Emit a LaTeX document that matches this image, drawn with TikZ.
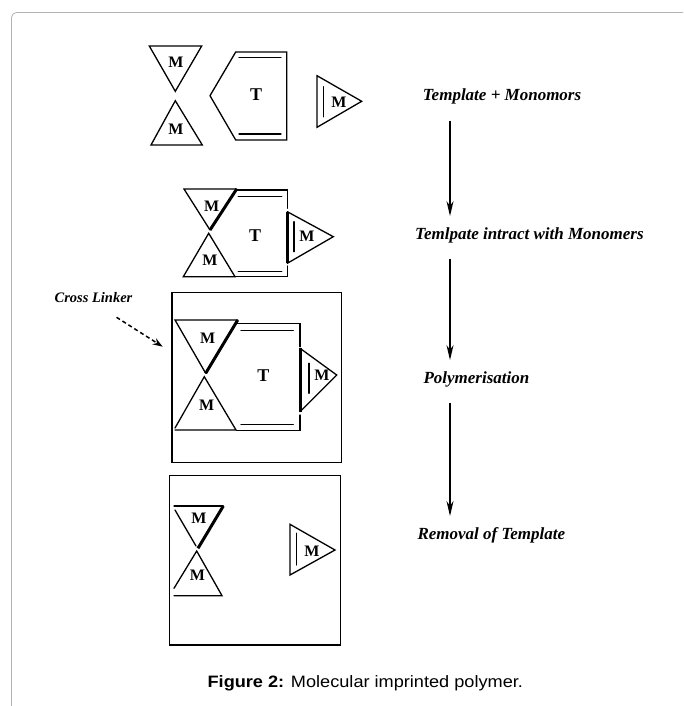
\documentclass[tikz,border=0pt]{standalone}
\usepackage{fontspec}
\setmainfont{Liberation Serif}
\newfontfamily\capfont{Liberation Sans}
\usepackage{tikz}
\usetikzlibrary{positioning, arrows.meta}

\begin{document}
\begin{tikzpicture}[
    x=1pt, y=-1pt,
    % --- MINIMALIST STYLES ---
    edge/.style={line width=1.3pt, line cap=round},
    bond/.style={line width=3pt}, % Interaction side (thick)
    mono/.style={font=\fontsize{16}{16}\selectfont\bfseries, inner sep=0pt}, % Monomer M
    tmpl/.style={font=\fontsize{18}{18}\selectfont\bfseries, inner sep=0pt}, % Template T
    stage/.style={font=\fontsize{17}{17}\selectfont\bfseries\itshape, inner sep=0pt, anchor=west},
    flow/.style={line width=1.5pt, -{Stealth[length=15pt, width=7pt]}, shorten <=16pt, shorten >=11pt},
    panel/.style={line width=1.2pt}
]
\useasboundingbox (0,0) rectangle (683,706);

% --- PAGE FRAME ---
\draw[gray!60, line width=0.8pt, rounded corners=5pt] (11.5,706) -- (11.5,12.5) -- (683,12.5);

% --- 1. TEMPLATE + MONOMERS ---
\draw[edge] (149.3,46) -- (201.7,46) -- (175.3,91.3) -- cycle;
\draw[edge] (175.3,100.7) -- (202.3,145) -- (151,145) -- cycle;
\draw[edge] (210,95.7) -- (235.7,52) -- (286.7,52) -- (286.7,140) -- (235.7,140) -- cycle;
\draw[edge] (239,57.7) -- (281,57.7);
\draw[edge] (239,134) -- (281,134);
\draw[edge] (317,75.7) -- (361.7,101.3) -- (317,127.3) -- cycle;
\draw[edge] (323.7,86.7) -- (323.7,116.7);
\node (m1a) [mono] at (176,62.7) {M};
\node (m1b) [mono] at (176,129) {M};
\node (t1) [tmpl] at (256,94.3) {T};
\node (m1c) [mono] at (339,102) {M};

% --- 2. TEMPLATE BOUND TO MONOMERS ---
\draw[edge] (210,230) -- (184,189) -- (236.7,189);
\draw[bond] (236.7,189) -- (210,230);
\draw[edge] (208.7,233.3) -- (235,276.7) -- (183.3,276.7) -- cycle;
\draw[edge] (236.7,190) -- (287.3,190) -- (287.3,208.3);
\draw[edge] (287.3,266) -- (287.3,276.7) -- (235,276.7);
\draw[edge] (238.3,196.7) -- (281.7,196.7);
\draw[edge] (238.3,271.7) -- (281.7,271.7);
\draw[edge] (287.3,211.7) -- (333.3,236.7) -- (287.3,263.3);
\draw[bond] (287.3,211.7) -- (287.3,263.3);
\draw[edge] (294,221.7) -- (294,251.7);
\node (m2a) [mono] at (211.7,206) {M};
\node (m2b) [mono] at (210,260) {M};
\node (t2) [tmpl] at (255,236) {T};
\node (m2c) [mono] at (307,236) {M};

% --- 3. POLYMER MATRIX ---
\draw[panel] (172,292.3) rectangle (341.7,462.3);
\draw[edge] (205.7,373.3) -- (175,320) -- (237.7,320);
\draw[bond] (237.7,320) -- (205.7,373.3);
\draw[edge] (175,428) -- (204.3,376.7) -- (236,430) -- (175,430);
\draw[edge] (237,323.3) -- (300,323.3) -- (300,346.7);
\draw[edge] (300,415) -- (300,430.7) -- (236.7,430.7);
\draw[edge] (241,330.7) -- (293.3,330.7);
\draw[edge] (241,424.3) -- (293.3,424.3);
\draw[edge] (300,348.3) -- (336.7,375) -- (300,411.7);
\draw[bond] (300,348.3) -- (300,411.7);
\draw[edge] (309,363.3) -- (309,393.3);
\node (m3a) [mono] at (207.7,338.3) {M};
\node (m3b) [mono] at (206.7,405.7) {M};
\node (t3) [tmpl] at (263.3,375.7) {T};
\node (m3c) [mono] at (322,375.7) {M};

% Cross linker pointer
\node (xlink) [font=\fontsize{14.5}{14.5}\selectfont\bfseries\itshape, inner sep=0pt] at (93.5,298) {Cross Linker};
\coordinate (xtip) at (162.7,346.7);
\draw[line width=1.5pt, dash pattern=on 4pt off 3pt, -{Stealth[length=10pt, width=7pt]}] ([shift={(-16,14)}]xlink.south east) -- (xtip);

% --- 4. TEMPLATE REMOVED ---
\draw[panel] (169.7,475.3) rectangle (340.3,645);
\draw[edge] (174,506) -- (223.3,506);
\draw[edge] (175,510) -- (196,546);
\draw[bond] (223.3,506) -- (198,548.3);
\draw[edge] (174,588.3) -- (196.7,551) -- (222,595.7) -- (174,595.7);
\draw[edge] (290,524.3) -- (335,550) -- (290,575) -- cycle;
\draw[edge] (296.7,533.3) -- (296.7,565);
\node (m4a) [mono] at (199,518.3) {M};
\node (m4b) [mono] at (197.3,575) {M};
\node (m4c) [mono] at (312,551) {M};

% --- STEP LABELS ---
\coordinate (axis) at (450,0);
\node (s1) [stage] at (422.7,96.7) {Template + Monomors};
\node (s2) [stage] at (415,235) {Temlpate intract with Monomers};
\node (s3) [stage] at (423.3,379) {Polymerisation};
\node (s4) [stage] at (417.3,535) {Removal of Template};

% --- FLOWS ---
\draw [flow] (s1.south -| axis) -- (s2.north -| axis);
\draw [flow] (s2.south -| axis) -- (s3.north -| axis);
\draw [flow] (s3.south -| axis) -- (s4.north -| axis);

% --- CAPTION ---
\node (cap) [font=\capfont\fontsize{16.5}{16.5}\selectfont, inner sep=0pt] at (365.3,683.3)
    {\scalebox{1.1}[1]{\textbf{Figure 2:} Molecular imprinted polymer.}};

\end{tikzpicture}
\end{document}
